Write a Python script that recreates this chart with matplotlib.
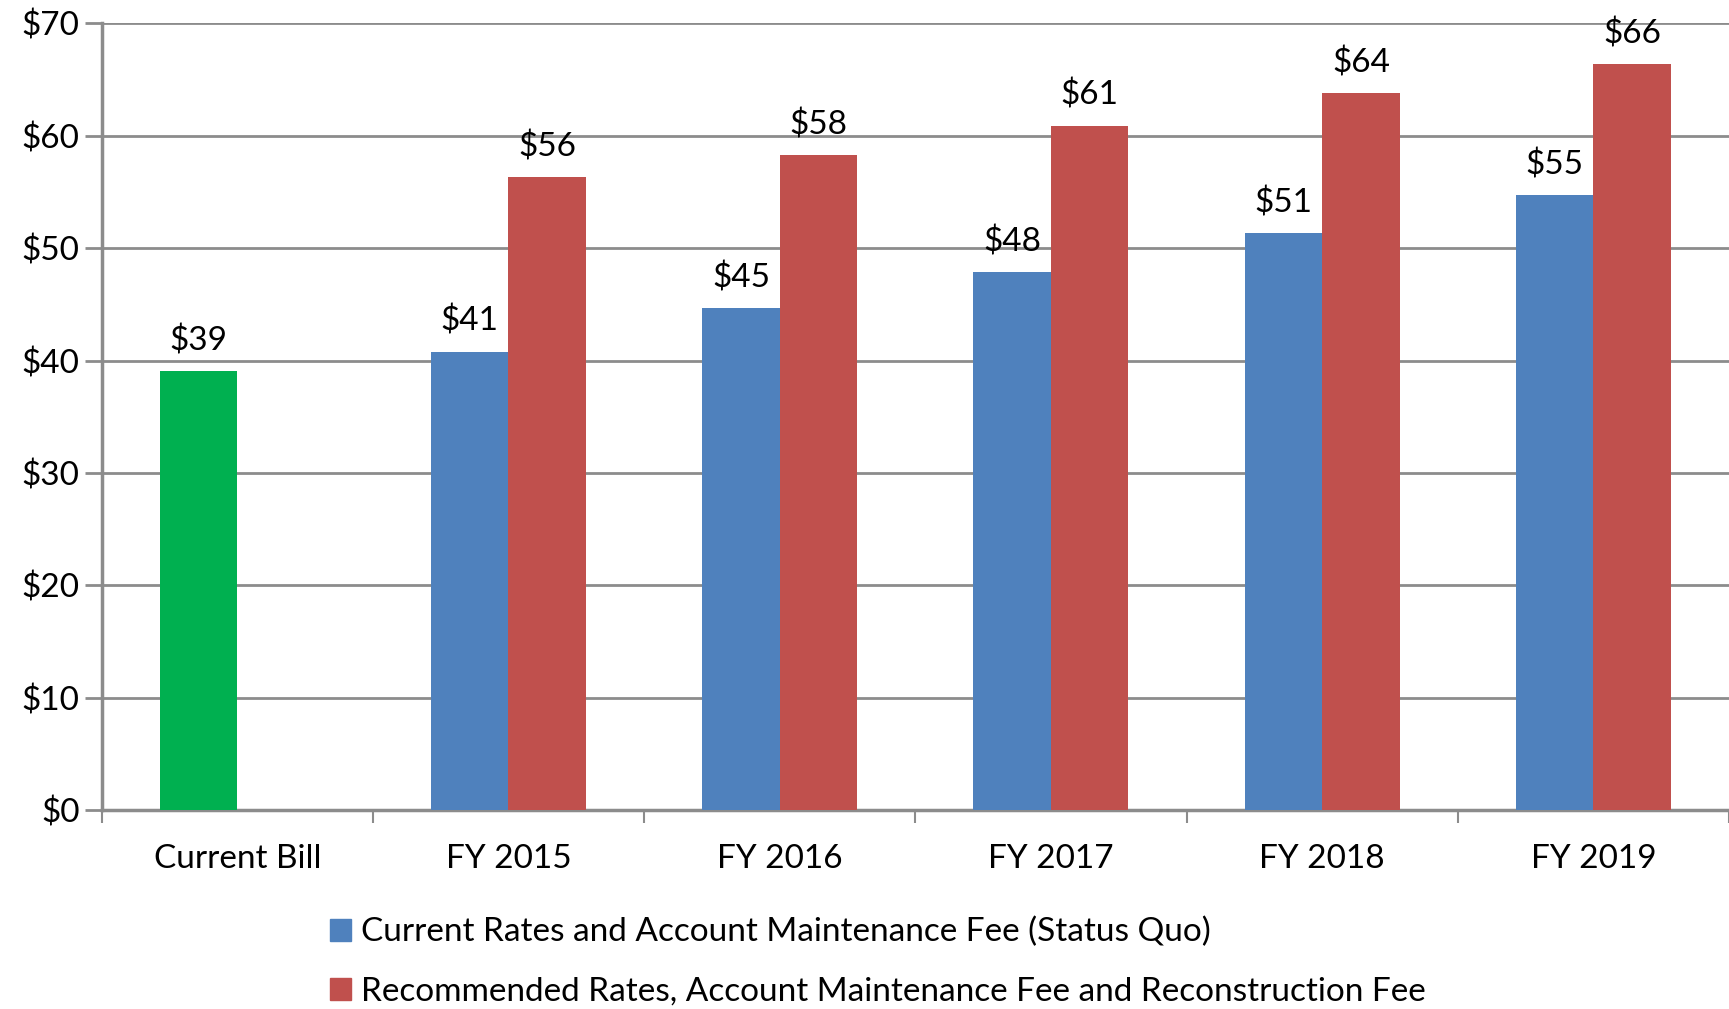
import matplotlib
matplotlib.use("Agg")
import matplotlib.pyplot as plt
import numpy as np
from matplotlib.patches import Patch

categories = ["Current Bill", "FY 2015", "FY 2016", "FY 2017", "FY 2018", "FY 2019"]
status_quo = [39.05, 40.8, 44.7, 47.9, 51.3, 54.7]
recommended = [None, 56.3, 58.3, 60.9, 63.8, 66.4]
status_labels = ["$39", "$41", "$45", "$48", "$51", "$55"]
rec_labels = [None, "$56", "$58", "$61", "$64", "$66"]
series_names = ["Current Rates and Account Maintenance Fee (Status Quo)",
                "Recommended Rates, Account Maintenance Fee and Reconstruction Fee"]
yticks = [0, 10, 20, 30, 40, 50, 60, 70]

plt.rcParams['font.family'] = ['Lato', 'DejaVu Sans']
FS = 24

fig = plt.figure(figsize=(17.29, 10.09), dpi=100)
ax = fig.add_axes([0.0588, 0.197, 0.9412, 0.78])

blue = "#4F81BD"
red = "#C0504D"
green = "#00B050"
grid = "#8C8C8C"

x = np.arange(len(categories))
w = 1 / 3.5
sq_colors = [green] + [blue] * (len(categories) - 1)
ax.bar(x - w / 2, status_quo, width=w, color=sq_colors, zorder=3)
rx = [xi for xi, v in zip(x, recommended) if v is not None]
rv = [v for v in recommended if v is not None]
ax.bar(np.array(rx) + w / 2, rv, width=w, color=red, zorder=3)

for xi, v, lab in zip(x, status_quo, status_labels):
    ax.annotate(lab, (xi - w / 2, v), xytext=(0, 10.5), textcoords="offset points",
                ha="center", va="bottom", fontsize=FS, color="black")
for xi, v, lab in zip(x, recommended, rec_labels):
    if v is None:
        continue
    ax.annotate(lab, (xi + w / 2, v), xytext=(0, 10.5), textcoords="offset points",
                ha="center", va="bottom", fontsize=FS, color="black")

ax.set_xlim(-0.5, len(categories) - 0.5)
ax.set_ylim(0, 70)
ax.set_yticks(yticks)
ax.set_yticklabels([f"${t}" for t in yticks], fontsize=FS)
ax.yaxis.grid(True, color=grid, linewidth=2, zorder=0)
ax.set_axisbelow(True)

ax.set_xticks(np.arange(len(categories) + 1) - 0.5, minor=False)
ax.set_xticklabels([])
ax.set_xticks(x, minor=True)
ax.set_xticklabels(categories, minor=True, fontsize=FS)
ax.tick_params(axis="x", which="major", length=9, width=1.5, color=grid, direction="out")
ax.tick_params(axis="x", which="minor", length=0, pad=24)
ax.tick_params(axis="y", length=12, width=2, color=grid, pad=4)

for s in ["top", "right"]:
    ax.spines[s].set_visible(False)
for s in ["left", "bottom"]:
    ax.spines[s].set_color(grid)
    ax.spines[s].set_linewidth(2.5)

handles = [Patch(color=blue), Patch(color=red)]
fig.legend(handles, series_names, loc="upper left", bbox_to_anchor=(0.191, 0.091),
           frameon=False, fontsize=FS, handlelength=0.63, handleheight=0.63,
           handletextpad=0.3, labelspacing=0.88, borderaxespad=0, borderpad=0)

fig.savefig("out.png", dpi=100)
